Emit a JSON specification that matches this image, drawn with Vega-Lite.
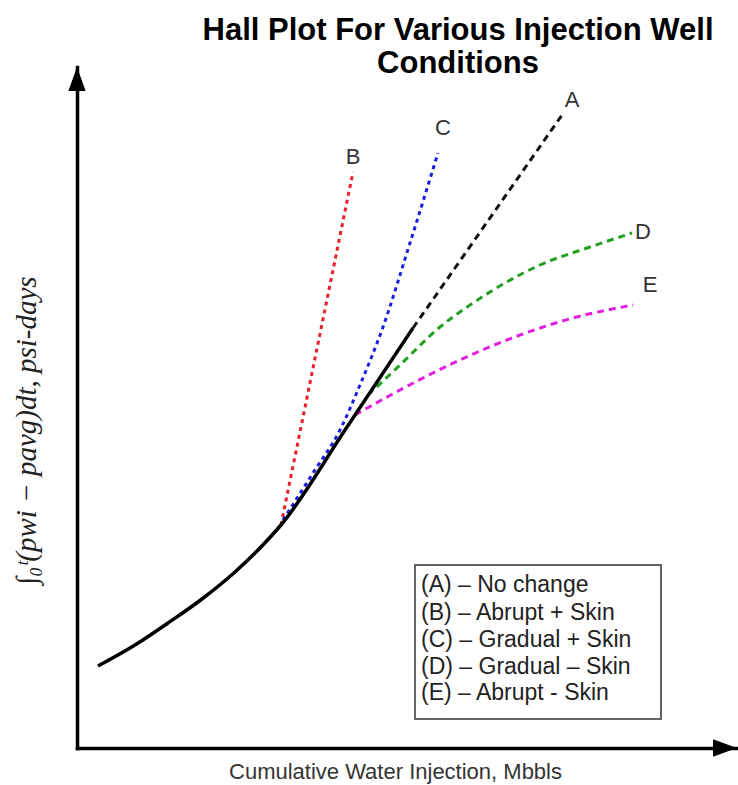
{
  "$schema": "https://vega.github.io/schema/vega-lite/v6.json",
  "width": 660,
  "height": 681,
  "autosize": {"type": "none"},
  "padding": {"left": 77, "top": 67, "right": 1, "bottom": 37},
  "background": "white",
  "title": {
    "text": ["Hall Plot For Various Injection Well", "Conditions"],
    "font": "Liberation Sans",
    "fontSize": 31,
    "fontWeight": "bold",
    "color": "black",
    "anchor": "middle",
    "frame": "group",
    "dx": 51,
    "lineHeight": 33,
    "offset": -13
  },
  "config": {"view": {"stroke": null}, "font": "Liberation Sans"},
  "datasets": {
    "curves": [
      {"series": "A", "x": 336, "y": 420},
      {"series": "A", "x": 485, "y": 633},
      {"series": "B", "x": 204, "y": 223},
      {"series": "B", "x": 276, "y": 576},
      {"series": "C", "x": 206, "y": 228},
      {"series": "C", "x": 236, "y": 275},
      {"series": "C", "x": 263, "y": 318},
      {"series": "C", "x": 283, "y": 363},
      {"series": "C", "x": 306, "y": 421},
      {"series": "C", "x": 333, "y": 505},
      {"series": "C", "x": 361, "y": 595},
      {"series": "D", "x": 291, "y": 353},
      {"series": "D", "x": 323, "y": 383},
      {"series": "D", "x": 363, "y": 421},
      {"series": "D", "x": 393, "y": 443},
      {"series": "D", "x": 428, "y": 465},
      {"series": "D", "x": 463, "y": 483},
      {"series": "D", "x": 513, "y": 501},
      {"series": "D", "x": 555, "y": 515},
      {"series": "E", "x": 278, "y": 333},
      {"series": "E", "x": 323, "y": 358},
      {"series": "E", "x": 383, "y": 388},
      {"series": "E", "x": 443, "y": 413},
      {"series": "E", "x": 496, "y": 430},
      {"series": "E", "x": 556, "y": 443}
    ],
    "main": [
      {"x": 21, "y": 82},
      {"x": 58, "y": 103},
      {"x": 91, "y": 125},
      {"x": 125, "y": 149},
      {"x": 158, "y": 176},
      {"x": 181, "y": 198},
      {"x": 204, "y": 223},
      {"x": 270, "y": 321},
      {"x": 336, "y": 420}
    ],
    "labels": [
      {"label": "A", "x": 495, "y": 648},
      {"label": "B", "x": 276, "y": 591},
      {"label": "C", "x": 366, "y": 620},
      {"label": "D", "x": 566, "y": 516},
      {"label": "E", "x": 573, "y": 463}
    ],
    "legend": [
      {"text": "(A) – No change", "x": 344, "y": 163},
      {"text": "(B) – Abrupt + Skin", "x": 344, "y": 135},
      {"text": "(C) – Gradual + Skin", "x": 344, "y": 108},
      {"text": "(D) – Gradual – Skin", "x": 344, "y": 81},
      {"text": "(E) – Abrupt - Skin", "x": 344, "y": 55}
    ],
    "box": [{"x1": 338, "x2": 584, "y1": 29, "y2": 183}],
    "arrowUp": [{"x": 0, "y": 669}],
    "arrowRight": [{"x": 648, "y": 0}]
  },
  "layer": [
    {
      "data": {"name": "box"},
      "mark": {"type": "rect", "fill": "white", "stroke": "#666666", "strokeWidth": 2},
      "encoding": {
        "x": {"field": "x1", "type": "quantitative", "scale": {"domain": [0, 660], "nice": false, "zero": false},
          "axis": {"domain": true, "domainColor": "black", "domainWidth": 3.5, "domainCap": "square", "ticks": false, "labels": false, "grid": false,
            "title": "Cumulative Water Injection, Mbbls", "titleFont": "Liberation Sans", "titleFontSize": 22, "titleFontWeight": "normal", "titleColor": "#333333",
            "titleX": 318, "titleY": 30, "titleBaseline": "alphabetic", "titleAlign": "center"}},
        "x2": {"field": "x2"},
        "y": {"field": "y1", "type": "quantitative", "scale": {"domain": [0, 681], "nice": false, "zero": false},
          "axis": {"domain": true, "domainColor": "black", "domainWidth": 3.5, "domainCap": "square", "ticks": false, "labels": false, "grid": false,
            "title": "∫₀ᵗ(pwi − pavg)dt, psi-days", "titleFont": "Liberation Serif", "titleFontSize": 29, "titleFontWeight": "normal", "titleFontStyle": "italic", "titleColor": "#222222",
            "titleX": -51, "titleY": 363, "titleBaseline": "middle", "titleAlign": "center", "titleAngle": 270}},
        "y2": {"field": "y2"}
      }
    },
    {
      "data": {"name": "curves"},
      "mark": {"type": "line", "strokeWidth": 3, "interpolate": "monotone"},
      "encoding": {
        "x": {"field": "x", "type": "quantitative"},
        "y": {"field": "y", "type": "quantitative"},
        "color": {"field": "series", "type": "nominal", "legend": null,
          "scale": {"domain": ["A", "B", "C", "D", "E"], "range": ["#111111", "#e8202a", "#1c1ce0", "#22a022", "#e020e0"]}},
        "strokeDash": {"field": "series", "type": "nominal", "legend": null,
          "scale": {"domain": ["A", "B", "C", "D", "E"], "range": [[7, 5], [4, 4], [4, 4], [7, 5], [7, 5]]}}
      }
    },
    {
      "data": {"name": "main"},
      "mark": {"type": "line", "color": "black", "strokeWidth": 3.5, "interpolate": "monotone"},
      "encoding": {
        "x": {"field": "x", "type": "quantitative"},
        "y": {"field": "y", "type": "quantitative"}
      }
    },
    {
      "data": {"name": "labels"},
      "mark": {"type": "text", "font": "Liberation Sans", "fontSize": 22, "color": "#333333", "align": "center", "baseline": "middle"},
      "encoding": {
        "x": {"field": "x", "type": "quantitative"},
        "y": {"field": "y", "type": "quantitative"},
        "text": {"field": "label"}
      }
    },
    {
      "data": {"name": "legend"},
      "mark": {"type": "text", "font": "Liberation Sans", "fontSize": 23, "color": "#222222", "align": "left", "baseline": "middle"},
      "encoding": {
        "x": {"field": "x", "type": "quantitative"},
        "y": {"field": "y", "type": "quantitative"},
        "text": {"field": "text"}
      }
    },
    {
      "data": {"name": "arrowUp"},
      "mark": {"type": "point", "shape": "M0,-1L0.72,1L-0.72,1Z", "size": 576, "filled": true, "color": "black", "opacity": 1},
      "encoding": {
        "x": {"field": "x", "type": "quantitative"},
        "y": {"field": "y", "type": "quantitative"}
      }
    },
    {
      "data": {"name": "arrowRight"},
      "mark": {"type": "point", "shape": "M1,0L-1,-0.72L-1,0.72Z", "size": 576, "filled": true, "color": "black", "opacity": 1},
      "encoding": {
        "x": {"field": "x", "type": "quantitative"},
        "y": {"field": "y", "type": "quantitative"}
      }
    }
  ]
}
